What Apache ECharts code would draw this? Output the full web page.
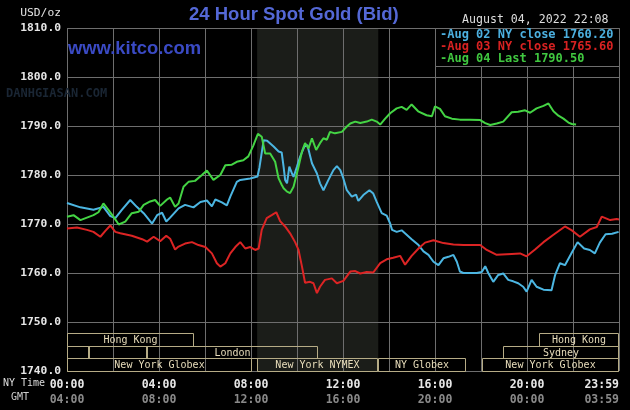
<!DOCTYPE html>
<html><head><meta charset="utf-8">
<script src="https://cdn.jsdelivr.net/npm/echarts@6/dist/echarts.min.js"></script>
<style>html,body{margin:0;padding:0;background:#000;}#c{width:630px;height:410px;}</style>
</head><body><div id="c"></div>
<script>
// ---- DATA (minutes after 00:00 NY time, price USD/oz) ----
const seriesNames = ['Aug 02 NY close', 'Aug 03 NY close', 'Aug 04 Last'];
const legendValues = [1760.20, 1765.60, 1790.50];

const aug02 = [[0,1774.3],[35,1773.4],[69,1772.9],[95,1773.5],[113,1771.6],[126,1771.2],[143,1772.9],[165,1774.9],[182,1773.5],[200,1772.2],[222,1770.1],[235,1771.8],[248,1772.3],[259,1770.5],[269,1771.3],[291,1773.2],[308,1773.9],[330,1773.4],[348,1774.5],[365,1774.8],[378,1773.6],[387,1775.0],[404,1774.4],[417,1773.8],[426,1775.6],[443,1778.6],[452,1779.0],[478,1779.3],[497,1779.7],[502,1781.5],[513,1787.1],[522,1787.0],[539,1785.8],[552,1784.8],[560,1784.6],[565,1781.7],[569,1779.0],[574,1778.3],[580,1781.7],[587,1780.3],[591,1779.6],[600,1781.7],[608,1783.7],[619,1785.8],[627,1786.1],[639,1782.4],[652,1780.3],[660,1778.3],[669,1776.9],[682,1779.0],[695,1781.0],[704,1781.8],[713,1781.0],[721,1779.3],[730,1776.9],[743,1775.6],[754,1776.0],[760,1774.7],[773,1775.9],[789,1776.9],[799,1776.2],[808,1774.5],[821,1772.2],[834,1771.7],[843,1770.1],[848,1768.8],[860,1768.4],[873,1768.7],[886,1767.8],[899,1766.9],[917,1765.7],[930,1764.4],[943,1763.7],[956,1762.3],[969,1761.6],[982,1763.0],[995,1763.3],[1008,1763.7],[1017,1762.3],[1025,1760.3],[1034,1760.0],[1069,1760.0],[1082,1760.2],[1091,1761.4],[1099,1760.0],[1112,1758.2],[1125,1759.6],[1138,1759.9],[1151,1758.6],[1164,1758.3],[1177,1757.9],[1190,1757.2],[1199,1756.2],[1212,1758.6],[1225,1757.2],[1243,1756.6],[1264,1756.5],[1273,1759.5],[1286,1762.0],[1299,1761.6],[1317,1764.2],[1332,1766.3],[1349,1765.0],[1364,1764.7],[1377,1764.0],[1390,1766.2],[1405,1767.9],[1422,1768.0],[1439,1768.4]];

const aug03 = [[0,1769.1],[26,1769.3],[52,1768.8],[69,1768.4],[87,1767.4],[100,1768.6],[113,1769.7],[126,1768.4],[139,1768.1],[169,1767.6],[196,1766.9],[209,1766.4],[226,1767.4],[243,1766.5],[259,1767.6],[269,1767.0],[282,1764.8],[291,1765.4],[308,1766.0],[326,1766.3],[343,1765.7],[361,1765.3],[378,1764.0],[391,1762.0],[400,1761.3],[413,1762.0],[426,1764.0],[439,1765.3],[452,1766.3],[465,1765.0],[478,1765.3],[491,1764.7],[500,1765.0],[508,1768.8],[521,1771.2],[534,1771.8],[546,1772.4],[556,1770.6],[569,1769.5],[582,1768.1],[595,1766.3],[604,1764.7],[613,1761.3],[621,1758.0],[634,1758.2],[643,1757.9],[652,1755.9],[660,1757.2],[673,1758.6],[691,1758.9],[704,1757.9],[721,1758.4],[739,1760.3],[752,1760.4],[765,1759.9],[782,1760.2],[799,1760.1],[817,1762.0],[834,1762.8],[851,1763.1],[869,1763.5],[882,1761.7],[899,1763.5],[917,1765.0],[934,1766.2],[956,1766.7],[982,1766.1],[1008,1765.8],[1034,1765.7],[1078,1765.7],[1095,1764.7],[1121,1763.7],[1160,1763.9],[1182,1764.0],[1199,1763.4],[1221,1764.8],[1243,1766.3],[1269,1767.8],[1299,1769.5],[1317,1768.7],[1338,1767.4],[1364,1768.9],[1382,1769.4],[1395,1771.5],[1417,1770.8],[1434,1771.0],[1440,1770.9]];

const aug04 = [[0,1771.5],[17,1771.8],[35,1770.8],[69,1771.8],[82,1772.4],[95,1774.2],[108,1772.9],[121,1771.5],[135,1769.9],[152,1770.5],[169,1772.2],[187,1772.5],[200,1773.9],[217,1774.6],[230,1774.9],[243,1773.7],[261,1775.0],[269,1775.4],[282,1773.5],[291,1774.2],[304,1777.6],[317,1778.6],[334,1778.8],[352,1780.0],[365,1780.9],[382,1779.0],[400,1780.0],[413,1782.0],[430,1782.1],[443,1782.7],[460,1783.0],[473,1783.8],[486,1786.0],[498,1788.4],[508,1787.8],[517,1784.4],[530,1784.4],[543,1782.7],[552,1779.3],[560,1778.0],[565,1777.3],[574,1776.6],[582,1776.3],[591,1777.6],[604,1781.7],[613,1784.8],[621,1786.5],[630,1785.4],[639,1787.5],[650,1785.1],[660,1786.5],[669,1787.5],[678,1787.2],[686,1788.8],[699,1788.5],[717,1788.8],[730,1789.9],[739,1790.5],[752,1790.9],[765,1790.6],[782,1790.9],[795,1791.3],[808,1790.9],[817,1790.3],[830,1791.5],[843,1792.6],[860,1793.6],[873,1793.9],[886,1793.3],[899,1794.4],[916,1793.0],[938,1792.2],[952,1792.0],[960,1794.0],[973,1793.5],[986,1792.0],[1004,1791.5],[1025,1791.3],[1051,1791.3],[1078,1791.2],[1091,1790.6],[1104,1790.2],[1121,1790.5],[1138,1790.9],[1160,1792.8],[1177,1792.9],[1195,1793.2],[1208,1792.7],[1225,1793.6],[1243,1794.1],[1256,1794.6],[1269,1793.0],[1282,1792.1],[1295,1791.5],[1308,1790.7],[1317,1790.4],[1328,1790.3]];

// tick labels
const labelMinutes = [0, 240, 480, 720, 960, 1200, 1440];
const nyTimeLabels = ['00:00','04:00','08:00','12:00','16:00','20:00','23:59'];
const gmtLabels = ['04:00','08:00','12:00','16:00','20:00','00:00','03:59'];

// trading sessions: [start minute, end minute, row (0 = top), name]
const sessions = [
  [0, 330, 0, 'Hong Kong'],
  [1230, 1440, 0, 'Hong Kong'],
  [0, 57, 1, ''],
  [57, 209, 1, ''],
  [209, 655, 1, 'London'],
  [1138, 1440, 1, 'Sydney'],
  [0, 482, 2, 'New York Globex'],
  [496, 812, 2, 'New York NYMEX'],
  [812, 1040, 2, 'NY Globex'],
  [1082, 1440, 2, 'New York Globex']
];
const nymexWindow = [[496, 812]];
const dateText = 'August 04, 2022 22:08';

// ---- CHART ----
const colors = ['#4cb6e2', '#dc2424', '#44d444'];
const legendColors = ['#4cb0e0', '#d82222', '#40c840'];
const rowBands = [[1745.1, 1747.7], [1742.6, 1745.1], [1740.0, 1742.6]];
const mono = '"DejaVu Sans Mono", monospace';

const chart = echarts.init(document.getElementById('c'), null, {renderer: 'canvas'});

const graphics = [
  {type:'text', left: 'auto', x: 61, y: 13, z: 10, style:{text:'USD/oz', x:0, y:0, align:'right', verticalAlign:'middle', fill:'#e2e2e2', font:'11.3px ' + mono}},
  {type:'text', x: 462, y: 20, z: 10, style:{text: dateText, align:'left', verticalAlign:'middle', fill:'#dedede', font:'11.6px ' + mono}},
  {type:'text', x: 68, y: 49, z: 10, style:{text:'www.kitco.com', align:'left', verticalAlign:'middle', fill:'#3a4ac4', font:'bold 18.4px "Liberation Sans", Arial, sans-serif'}},
  {type:'text', x: 6, y: 94, z: 1, style:{text:'DANHGIASAN.COM', align:'left', verticalAlign:'middle', fill:'#1a2634', font:'bold 12px ' + mono}},
  {type:'rect', z: 5, shape:{x:435.5, y:28.5, width:184, height:38}, style:{fill:'#000', stroke:'#6e6e6e', lineWidth:1}},
  {type:'text', x: 3, y: 383, z: 10, style:{text:'NY Time', align:'left', verticalAlign:'middle', fill:'#dcdcdc', font:'10px ' + mono}},
  {type:'text', x: 11, y: 397, z: 10, style:{text:'GMT', align:'left', verticalAlign:'middle', fill:'#cfcfcf', font:'10px ' + mono}}
];
seriesNames.forEach((n, i) => {
  graphics.push({type:'text', x: 440, y: 34.5 + i * 12, z: 10,
    style:{text: '-' + n + ' ' + legendValues[i].toFixed(2), align:'left', verticalAlign:'middle', fill: legendColors[i], font:'bold 12px ' + mono}});
});

const lineSeries = [aug02, aug03, aug04].map((d, i) => ({
  name: seriesNames[i], type: 'line', data: d, showSymbol: false, symbol: 'none',
  lineStyle: {color: colors[i], width: 2}, itemStyle:{color: colors[i]}, z: 4, animation: false
}));

chart.setOption({
  backgroundColor: '#000',
  animation: false,
  title: {text: '24 Hour Spot Gold (Bid)', left: 189, top: 5, padding: 0,
    textStyle: {color: '#5468d6', fontSize: 18.5, fontWeight: 'bold', fontFamily: '"Liberation Sans", Arial, sans-serif'}},
  grid: {left: 67, right: 11, top: 28, bottom: 39, containLabel: false},
  xAxis: {
    type: 'value', min: 0, max: 1440, interval: 120,
    axisLine: {show: false}, axisTick: {show: false},
    splitLine: {show: true, lineStyle: {color: '#6e6e6e', width: 1}},
    axisLabel: {
      margin: 7, showMaxLabel: true, showMinLabel: true, alignMaxLabel: 'right',
      formatter: v => {
        const i = labelMinutes.indexOf(v);
        return i < 0 ? '' : '{ny|' + nyTimeLabels[i] + '}\n{gmt|' + gmtLabels[i] + '}';
      },
      rich: {
        ny: {color: '#e8e8e8', fontFamily: mono, fontSize: 11.5, fontWeight: 'bold', lineHeight: 15},
        gmt: {color: '#8a8a8a', fontFamily: mono, fontSize: 11.5, fontWeight: 'bold', lineHeight: 15}
      }
    }
  },
  yAxis: {
    type: 'value', min: 1740, max: 1810, interval: 10,
    axisLine: {show: false}, axisTick: {show: false},
    splitLine: {show: true, lineStyle: {color: '#6e6e6e', width: 1}},
    axisLabel: {margin: 6, color: '#e6e6e6', fontFamily: mono, fontSize: 11.3, fontWeight: 'bold',
      formatter: v => v.toFixed(1)}
  },
  graphic: graphics,
  series: [
    {
      type: 'custom', z: -1, silent: true, clip: false, data: nymexWindow,
      encode: {x: [0, 1]},
      renderItem: (params, api) => {
        const a = api.coord([api.value(0), 1810]);
        const b = api.coord([api.value(1), 1740]);
        return {type: 'rect', shape: {x: a[0], y: a[1], width: b[0] - a[0], height: b[1] - a[1]},
          style: {fill: '#1b1d19'}};
      }
    },
    {
      type: 'custom', z: 3, silent: true, clip: false,
      data: sessions.map(s => [s[0], s[1], s[2]]),
      encode: {x: [0, 1]},
      renderItem: (params, api) => {
        const s = sessions[params.dataIndex];
        const band = rowBands[s[2]];
        const p1 = api.coord([s[0], band[1]]);
        const p2 = api.coord([s[1], band[0]]);
        const x = Math.round(p1[0]) + 0.5, y = Math.round(p1[1]) + 0.5;
        const w = Math.round(p2[0]) - Math.round(p1[0]) - 1, h = Math.round(p2[1]) - Math.round(p1[1]);
        return {type: 'group', children: [
          {type: 'rect', shape: {x: x, y: y, width: w, height: h}, style: {fill: null, stroke: '#b6ac86', lineWidth: 1}},
          {type: 'text', style: {text: s[3], x: x + w / 2, y: y + h / 2 + 0.5, align: 'center', verticalAlign: 'middle',
            textAlign: 'center', textVerticalAlign: 'middle', fill: '#e8ddbb', font: '10px ' + mono}}
        ]};
      }
    }
  ].concat(lineSeries)
});
</script>
</body></html>
